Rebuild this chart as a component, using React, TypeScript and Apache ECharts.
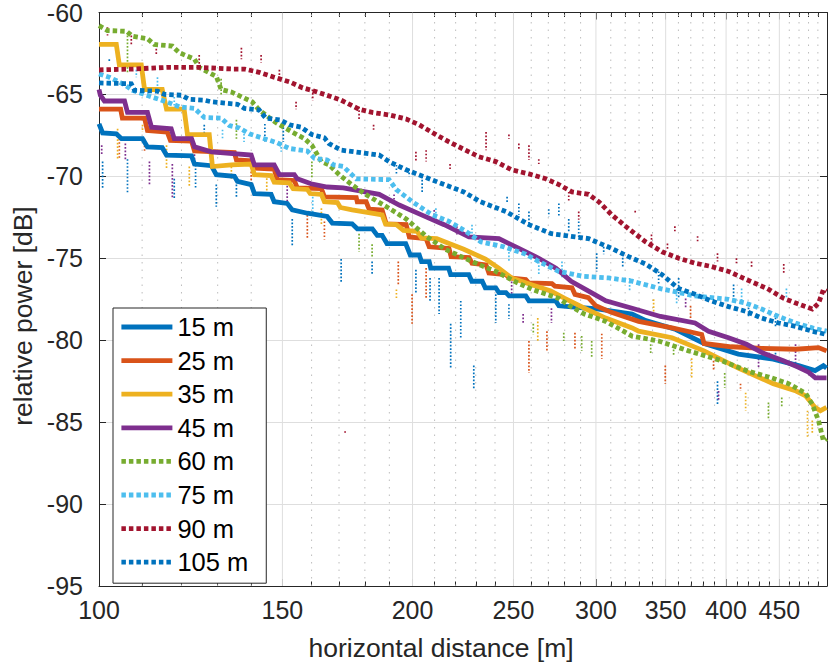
import React, { useEffect, useRef } from "react";
import * as echarts from "echarts";

// ---- axis ticks (horizontal distance in m, relative power in dB) ----
const DIST_MIN = 100;
const DIST_MAX = 500;
const DIST_TICKS = [100, 150, 200, 250, 300, 350, 400, 450];
const DIST_MINOR = [
  110, 120, 130, 140, 160, 170, 180, 190, 210, 220, 230, 240, 260, 270, 280, 290,
  310, 320, 330, 340, 360, 370, 380, 390, 410, 420, 430, 440, 460, 470, 480, 490,
];
const DB_MIN = -95;
const DB_MAX = -60;
const DB_STEP = 5;

const SERIES_NAMES = ["15 m", "25 m", "35 m", "45 m", "60 m", "75 m", "90 m", "105 m"];
const SERIES_COLORS = ["#0072BD", "#D95319", "#EDB120", "#7E2F8E", "#77AC30", "#4DBEEE", "#A2142F", "#0072BD"];
const SERIES_DOTTED = [false, false, false, false, true, true, true, true];

// ---- main curves [distance m, dB] ----
const h15 = [[100,-66.8],[100.8,-67.35],[103.9,-67.4],[105.1,-67.7],[110.1,-67.7],[111.3,-68.2],[115,-68.25],[116.1,-68.7],[122.7,-68.75],[123.5,-69.25],[128.2,-69.35],[129.6,-69.9],[134.9,-70.0],[135.8,-70.3],[140,-70.5],[141,-71.05],[146.3,-71.1],[147.3,-71.55],[151.6,-71.65],[153.3,-72.05],[158.5,-72.25],[165.6,-72.45],[167.5,-72.85],[175,-72.9],[177,-73.2],[183,-73.2],[185,-73.6],[187,-73.6],[189,-74.1],[197,-74.1],[199,-74.8],[203,-74.8],[204,-75.2],[207.5,-75.2],[208.2,-75.6],[216.6,-75.6],[217.6,-76.0],[226.5,-76.0],[228,-76.4],[233.3,-76.4],[234.9,-76.8],[240.4,-76.8],[242.1,-77.1],[245.9,-77.1],[247.6,-77.3],[256.9,-77.3],[258.7,-77.6],[274.5,-77.6],[276.4,-77.9],[295,-78.05],[301.9,-78.1],[325,-78.4],[335,-78.8],[358,-79.35],[381,-80.2],[411,-80.85],[444,-81.15],[469.5,-81.55],[487,-81.85],[496,-81.55],[499.5,-81.7]];
const h25 = [[100,-65.9],[104.9,-65.9],[105.3,-66.45],[110.6,-66.45],[111.3,-67.2],[116.3,-67.3],[117.1,-67.8],[122.7,-67.85],[123.5,-68.45],[134.9,-68.55],[135.5,-69.0],[140,-69.05],[141,-69.5],[147.3,-69.55],[148.3,-70.2],[154,-70.25],[155,-70.7],[163.5,-70.75],[164.6,-71.25],[176.6,-71.3],[177,-71.55],[180.5,-71.55],[181.7,-72.0],[187,-72.05],[188.7,-72.9],[197.2,-72.95],[198.6,-73.7],[206.1,-73.8],[207.5,-74.3],[216.8,-74.4],[217.8,-74.9],[226.6,-74.95],[228.1,-75.3],[235.3,-75.4],[236.8,-75.9],[245.9,-76.0],[247.6,-76.2],[256.9,-76.3],[258.6,-76.5],[272.2,-76.55],[274,-76.7],[284.5,-76.8],[286.4,-77.2],[295,-77.4],[299.9,-77.9],[310.4,-78.3],[329.7,-78.85],[355,-79.25],[370,-79.5],[379,-79.65],[381,-80.2],[404.6,-80.4],[432.8,-80.5],[466.4,-80.55],[490.7,-80.45],[499.5,-80.65]];
const h35 = [[100,-61.95],[103.9,-61.95],[104.6,-63.2],[109.8,-63.2],[110.6,-64.7],[115,-64.7],[116.1,-65.9],[120.7,-65.9],[121.6,-67.45],[127.6,-67.45],[128.5,-69.4],[134,-69.3],[140,-69.25],[141,-69.9],[146.3,-69.95],[147.3,-70.35],[152.3,-70.4],[153.6,-70.75],[158.5,-70.8],[159.5,-71.05],[163.5,-71.1],[164.6,-71.55],[169.4,-71.6],[170.5,-71.9],[175,-72.05],[187,-72.35],[188.4,-72.9],[193,-72.95],[196,-73.3],[202,-73.35],[204,-73.75],[211,-73.8],[215,-74.0],[224,-74.45],[235,-75.05],[242,-75.6],[249,-76.2],[259.8,-76.6],[271.5,-77.0],[280,-77.45],[292.5,-78.05],[306.6,-78.65],[325,-79.25],[329.7,-79.45],[355,-79.85],[381,-80.65],[411,-81.7],[444,-82.65],[467,-83.1],[477,-83.4],[487,-84.1],[492.8,-84.3],[499.5,-84.1]];
const h45 = [[100,-64.7],[100.3,-65.05],[101.2,-65.4],[105.8,-65.4],[106.5,-66.1],[111.3,-66.1],[112.3,-67.0],[117.3,-67.1],[118.1,-67.7],[122.7,-67.7],[123.5,-68.2],[128.2,-68.5],[140,-68.7],[141,-69.3],[147.3,-69.3],[149,-69.9],[154,-69.9],[155,-70.15],[159.8,-70.45],[165.6,-70.65],[171.6,-70.7],[185.8,-71.1],[194.2,-71.75],[204,-72.35],[214.5,-72.95],[226.6,-73.7],[242.1,-73.8],[253,-74.4],[264.4,-75.0],[274.6,-75.6],[284,-76.4],[295.2,-77.0],[306.6,-77.6],[325,-78.05],[346,-78.55],[373.5,-78.95],[384.8,-79.45],[402.2,-79.85],[418.5,-80.25],[434.5,-80.8],[454,-81.25],[469.5,-81.65],[480,-81.95],[487.3,-82.3],[499.5,-82.3]];
const h60 = [[100,-60.8],[101.9,-61.1],[106.3,-61.15],[107.7,-61.45],[111.3,-61.6],[113,-61.95],[117.6,-62.05],[119.4,-62.45],[123.5,-62.85],[124.8,-63.35],[129.6,-63.9],[131,-64.7],[134,-64.85],[140.3,-65.45],[142.5,-65.95],[147.7,-66.7],[153.3,-67.3],[157.5,-67.7],[160.1,-68.1],[163.5,-69.1],[166.3,-69.3],[170.1,-69.9],[174.8,-70.5],[180.3,-71.1],[189.9,-71.95],[197.2,-72.6],[206.1,-73.65],[215,-74.45],[224.5,-75.0],[233,-75.45],[240.4,-75.8],[251.3,-76.45],[260.5,-76.9],[276.4,-77.45],[284,-77.95],[292.4,-78.4],[306.6,-78.85],[325,-79.75],[344.6,-80.05],[368.2,-80.65],[396,-81.25],[420.4,-81.9],[442.5,-82.3],[459.2,-82.65],[477,-83.25],[483.9,-83.9],[490.7,-84.9],[496.1,-86.15],[499.5,-86.0]];
const h75 = [[100,-63.75],[102.3,-63.95],[105.8,-64.4],[107.7,-64.75],[111.1,-65.05],[116.1,-65.45],[119.4,-65.75],[123.5,-65.85],[126.2,-66.4],[131,-66.45],[133.4,-66.9],[136.4,-67.05],[139.4,-67.4],[144.1,-67.7],[148.3,-67.95],[152.3,-68.3],[158.5,-68.45],[161,-68.9],[165.6,-69.0],[168,-69.3],[171.6,-69.4],[176.6,-70.15],[189.9,-70.2],[192.9,-70.8],[199.9,-71.55],[208.9,-72.35],[216.8,-72.75],[224.9,-73.35],[232.7,-74.0],[244.8,-74.3],[256.9,-74.75],[264.4,-75.2],[276.4,-75.8],[291.6,-76.1],[308.6,-76.2],[325,-76.4],[346,-76.85],[373.5,-77.3],[402.2,-77.5],[418.5,-77.75],[432.8,-78.1],[449.2,-78.55],[466.4,-78.95],[484,-79.25],[499.5,-79.45]];
const h90 = [[100,-63.5],[107.7,-63.45],[116.1,-63.35],[124.8,-63.35],[134.3,-63.45],[137.9,-63.45],[142.5,-63.65],[147.3,-63.95],[152.6,-64.25],[156.9,-64.6],[160.1,-64.75],[164.6,-65.0],[170.8,-65.35],[177.7,-65.9],[183,-66.1],[189.9,-66.25],[197.2,-66.5],[202.9,-66.85],[210.6,-67.45],[216.8,-67.9],[223.2,-68.3],[231.6,-68.8],[240.4,-69.1],[249,-69.6],[258.7,-69.85],[268.5,-70.15],[276.4,-70.5],[284.5,-70.95],[295.2,-71.1],[301.9,-71.55],[310.7,-72.35],[322.5,-73.2],[334.9,-74.0],[347.2,-74.6],[360.2,-75.0],[373.5,-75.3],[387.1,-75.5],[402.2,-75.8],[418.5,-76.3],[438.3,-76.85],[454.4,-77.45],[467.4,-77.75],[484,-78.1],[490.7,-77.75],[496.1,-76.9],[499.5,-77.0]];
const h105 = [[100,-64.3],[107.4,-64.35],[108.2,-64.75],[113.8,-64.8],[115.6,-65.0],[120,-65.05],[122.1,-65.3],[126.2,-65.35],[128.2,-65.45],[135.8,-65.6],[137.9,-65.85],[142.5,-65.95],[144.6,-66.45],[149.2,-66.55],[152.3,-66.85],[156.3,-67.0],[160.1,-67.45],[164.6,-67.65],[166.3,-68.0],[170.8,-68.4],[185.8,-68.7],[189.9,-69.1],[197.2,-69.6],[207.5,-70.15],[214.5,-70.5],[224,-70.95],[232.4,-71.55],[245.9,-72.15],[258.7,-72.95],[271.9,-73.5],[283.3,-73.65],[295.2,-73.8],[310.7,-74.4],[322.5,-74.9],[334.9,-75.35],[347.2,-76.0],[360.2,-76.85],[373.5,-77.2],[387.1,-77.6],[402.2,-77.95],[418.5,-78.25],[432.8,-78.65],[449.2,-78.95],[466.4,-79.15],[484,-79.45],[499.5,-79.65]];

// ---- scattered outlier streaks [distance m, dB top, dB bottom] ----
const n15 = [[100.8,-69.1,-70.75],[106.5,-68.95,-71.05],[118.1,-70.15,-71.4],[123.8,-69.3,-70.8],[129.6,-70.5,-71.85],[135.5,-70.5,-71.25],[153.3,-72.6,-74.3],[170.8,-75.05,-76.5],[182.9,-75.2,-76.0],[201.5,-75.7,-77.2],[207.9,-76.2,-77.6],[212.1,-76.2,-78.4],[217.6,-79.0,-81.7],[222.5,-77.6,-79.85],[229,-81.55,-83.0],[240.4,-77.2,-78.95],[247.5,-77.8,-78.7],[392.5,-82.5,-83.9],[446.2,-80.55,-81.25]];
const n25 = [[104.6,-67.7,-68.95],[110.6,-67.7,-68.5],[140,-69.7,-70.75],[158.5,-72.15,-73.8],[164.6,-72.75,-73.85],[193.8,-75.2,-76.6],[199.8,-77.2,-79.0],[206.1,-75.6,-77.5],[258.7,-80.05,-82.0],[269.2,-79.45,-80.65],[286.4,-79.55,-80.5],[303.9,-79.6,-81.15],[349.7,-81.55,-82.65],[369.8,-77.9,-78.65],[389.1,-81.25,-81.9],[413,-82.65,-83.1]];
const n35 = [[104.2,-67.1,-68.95],[110.1,-66.85,-67.3],[116.1,-68.1,-69.55],[122.1,-69.4,-70.65],[134,-69.4,-70.15],[144.9,-69.9,-70.95],[163.5,-71.95,-72.95],[193,-76.9,-77.45],[263.8,-78.65,-80.05],[340.8,-77.5,-78.4],[370.7,-81.1,-82.3],[417.7,-83.2,-84.3],[478.9,-84.3,-85.95],[484,-84.9,-85.7]];
const n45 = [[100.6,-68.1,-68.65],[106,-68.0,-68.95],[111.8,-69.1,-70.5],[117.6,-69.25,-71.35],[123.5,-68.65,-69.1],[151.6,-70.15,-71.75],[192,-71.1,-71.55],[209.8,-72.05,-72.65],[220.6,-73.05,-73.55],[249,-76.2,-77.2],[255.4,-78.4,-79.0],[271.9,-78.05,-78.95],[365.8,-77.45,-78.05],[393.4,-83.1,-83.7],[429.8,-80.25,-81.7],[466.4,-80.25,-81.45]];
const n60 = [[106.5,-61.4,-63.65],[131,-64.05,-65.0],[135.5,-66.55,-67.7],[160.1,-69.1,-70.15],[177.7,-73.5,-74.6],[182.9,-74.15,-74.9],[261.2,-79.0,-79.65],[279.4,-79.55,-80.05],[290.7,-79.75,-80.65],[297.2,-80.05,-81.1],[338.6,-80.25,-80.85],[356.2,-80.35,-80.95],[398.8,-82.0,-82.9],[439.3,-83.8,-84.8],[452.4,-83.5,-84.1]];
const n75 = [[108.6,-63.5,-63.95],[113.8,-63.95,-64.85],[118.1,-65.15,-65.9],[131.4,-67.15,-67.7],[137.8,-67.4,-67.9],[149.6,-68.0,-68.5],[160.4,-71.25,-72.35],[210.6,-71.95,-72.6],[228.1,-72.95,-73.55],[247.5,-74.4,-75.2],[264.4,-75.0,-76.0],[278.3,-75.2,-76.2],[323.2,-76.2,-77.0],[358.6,-77.0,-77.8],[414,-76.85,-77.6],[457.1,-76.85,-77.45]];
const n90 = [[101.9,-60.9,-61.4],[107.4,-61.4,-62.0],[113.5,-62.0,-62.6],[124.8,-62.6,-63.2],[137,-62.15,-62.85],[143.1,-62.6,-63.05],[149,-63.5,-64.05],[154.6,-65.45,-65.9],[160.4,-64.7,-65.35],[172.3,-85.55,-85.7],[177.7,-65.75,-66.5],[183.5,-66.85,-67.15],[201.5,-68.5,-69.1],[206.1,-68.4,-69.1],[217.3,-69.25,-69.55],[235.3,-67.3,-68.4],[247.5,-67.45,-67.7],[253,-68.0,-68.4],[258.7,-68.1,-69.0],[264.4,-68.95,-69.25],[282.5,-70.95,-71.55],[288.8,-72.15,-72.65],[327.2,-72.1,-72.3],[339.2,-73.55,-74.15],[351.4,-74.1,-74.45],[357.2,-73.05,-73.35],[375.6,-73.65,-74.0],[392.5,-74.7,-75.2],[409.3,-75.0,-75.3],[423.2,-75.2,-75.6],[454.4,-75.35,-75.9]];
const n105 = [[102.3,-62.85,-63.05],[126.2,-66.85,-67.4],[144.3,-66.8,-67.9],[150.3,-67.0,-67.9],[193,-69.3,-69.9],[198.5,-69.55,-70.0],[204.3,-70.0,-70.95],[246.5,-71.25,-71.65],[253,-71.65,-72.35],[258.7,-72.15,-72.95],[270.3,-72.0,-72.45],[276.4,-71.65,-72.45],[282.5,-72.6,-73.35],[288.8,-72.75,-73.8],[300.5,-74.7,-75.8],[305.2,-74.3,-74.75],[318.3,-74.75,-75.6],[344.6,-75.8,-76.6],[360.2,-76.2,-77.45],[406.7,-76.6,-77.6],[420.4,-77.8,-78.65],[446.2,-78.4,-79.25]];

const CURVES = [h15, h25, h35, h45, h60, h75, h90, h105];
const STREAKS = [n15, n25, n35, n45, n60, n75, n90, n105];

const FONT = "'Liberation Sans', Arial, Helvetica, sans-serif";
const AXIS_COLOR = "#262626";
const LINE_W = 4.8;
const lg = (d: number) => Math.log10(d);

function vLineSeries(name: string, values: number[], stroke: string, dash: number[] | null) {
  return {
    type: "custom",
    name,
    xAxisIndex: 0,
    yAxisIndex: 0,
    z: 1,
    silent: true,
    clip: true,
    encode: { x: 0, y: [1, 2] },
    data: values.map((d) => [lg(d), DB_MIN, DB_MAX]),
    renderItem: (_p: any, api: any) => {
      const a = api.coord([api.value(0), api.value(1)]);
      const b = api.coord([api.value(0), api.value(2)]);
      return {
        type: "line",
        shape: { x1: a[0], y1: a[1], x2: b[0], y2: b[1] },
        style: { stroke, lineWidth: 1, lineDash: dash || undefined },
      };
    },
  };
}

function streakSeries(idx: number) {
  const color = SERIES_COLORS[idx];
  return {
    type: "custom",
    name: "streak " + SERIES_NAMES[idx],
    xAxisIndex: 0,
    yAxisIndex: 0,
    z: 2,
    silent: true,
    clip: true,
    encode: { x: 0, y: [1, 2] },
    data: STREAKS[idx].map(([d, a, b]) => [lg(d), a, b]),
    renderItem: (_p: any, api: any) => {
      const a = api.coord([api.value(0), api.value(1)]);
      const b = api.coord([api.value(0), api.value(2)]);
      return {
        type: "line",
        shape: { x1: a[0], y1: a[1], x2: b[0], y2: b[1] },
        style: { stroke: color, lineWidth: 1.7, lineDash: [1.7, 1.8] },
      };
    },
  };
}

function curveSeries(idx: number) {
  return {
    type: "line",
    name: SERIES_NAMES[idx],
    xAxisIndex: 0,
    yAxisIndex: 0,
    z: 3,
    symbol: "none",
    showSymbol: false,
    silent: true,
    clip: true,
    data: CURVES[idx].map(([d, v]) => [lg(d), v]),
    lineStyle: {
      color: SERIES_COLORS[idx],
      width: LINE_W,
      type: SERIES_DOTTED[idx] ? [4.5, 3] : "solid",
      cap: "butt",
      join: "miter",
    },
    itemStyle: { color: SERIES_COLORS[idx] },
  };
}

function xAxisDef(position: "top" | "bottom", values: number[], len: number, withLine: boolean, withLabels: boolean) {
  return {
    type: "value",
    position,
    min: lg(DIST_MIN),
    max: lg(DIST_MAX),
    axisLine: { show: withLine, onZero: false, lineStyle: { color: AXIS_COLOR, width: 1 } },
    axisTick: {
      show: true,
      inside: true,
      length: len,
      customValues: values.map(lg),
      lineStyle: { color: AXIS_COLOR, width: 1 },
    },
    axisLabel: withLabels
      ? {
          show: true,
          customValues: values.map(lg),
          formatter: (v: number) => String(Math.round(Math.pow(10, v))),
          fontSize: 25,
          fontFamily: FONT,
          color: AXIS_COLOR,
          margin: 11,
        }
      : { show: false },
    splitLine: { show: false },
  };
}

function yAxisDef(position: "left" | "right", withLabels: boolean) {
  return {
    type: "value",
    position,
    min: DB_MIN,
    max: DB_MAX,
    interval: DB_STEP,
    axisLine: { show: true, onZero: false, lineStyle: { color: AXIS_COLOR, width: 1 } },
    axisTick: { show: true, inside: true, length: 7, lineStyle: { color: AXIS_COLOR, width: 1 } },
    axisLabel: withLabels
      ? { show: true, fontSize: 25, fontFamily: FONT, color: AXIS_COLOR, margin: 16 }
      : { show: false },
    splitLine: withLabels ? { show: true, lineStyle: { color: "#dedede", width: 1 } } : { show: false },
  };
}

export default function App() {
  const ref = useRef<HTMLDivElement>(null);
  useEffect(() => {
    document.body.style.margin = "0";
    const chart = echarts.init(ref.current!, null, { renderer: "svg" });
    const majorGrid = DIST_TICKS.filter((d) => d !== DIST_MIN);
    const option: any = {
      animation: false,
      backgroundColor: "#ffffff",
      grid: { left: 99, right: 3, top: 10, bottom: 79, containLabel: false },
      xAxis: [
        xAxisDef("bottom", DIST_TICKS, 7, true, true),
        xAxisDef("bottom", DIST_MINOR, 4.5, false, false),
        xAxisDef("top", DIST_TICKS, 7, true, false),
        xAxisDef("top", DIST_MINOR, 4.5, false, false),
      ],
      yAxis: [yAxisDef("left", true), yAxisDef("right", false)],
      legend: {
        data: SERIES_NAMES,
        orient: "vertical",
        left: 113,
        top: 308,
        padding: [6, 18, 8, 6],
        itemWidth: 51,
        itemHeight: 25,
        itemGap: 7.6,
        backgroundColor: "#ffffff",
        borderColor: AXIS_COLOR,
        borderWidth: 1,
        borderRadius: 0,
        selectedMode: false,
        itemStyle: { opacity: 0 },
        lineStyle: { width: LINE_W },
        textStyle: { fontSize: 25.5, lineHeight: 25, fontFamily: FONT, color: "#000000", padding: [0, 0, 0, 0] },
        z: 10,
      },
      graphic: [
        {
          type: "text",
          x: 441,
          y: 648,
          silent: true,
          style: {
            text: "horizontal distance [m]",
            fontSize: 26.5,
            fontFamily: FONT,
            fill: AXIS_COLOR,
            textAlign: "center",
            textVerticalAlign: "middle",
            align: "center",
            verticalAlign: "middle",
          },
        },
        {
          type: "text",
          x: 23,
          y: 316,
          rotation: Math.PI / 2,
          silent: true,
          style: {
            text: "relative power [dB]",
            fontSize: 26.5,
            fontFamily: FONT,
            fill: AXIS_COLOR,
            textAlign: "center",
            textVerticalAlign: "middle",
            align: "center",
            verticalAlign: "middle",
          },
        },
      ],
      series: [
        vLineSeries("major grid", majorGrid, "#dedede", null),
        vLineSeries("minor grid", DIST_MINOR, "#bdbdbd", [1.5, 6]),
        ...SERIES_NAMES.map((_, i) => streakSeries(i)),
        ...SERIES_NAMES.map((_, i) => curveSeries(i)),
      ],
    };
    chart.setOption(option);
    return () => chart.dispose();
  }, []);
  return <div ref={ref} style={{ width: 830, height: 665 }} />;
}
